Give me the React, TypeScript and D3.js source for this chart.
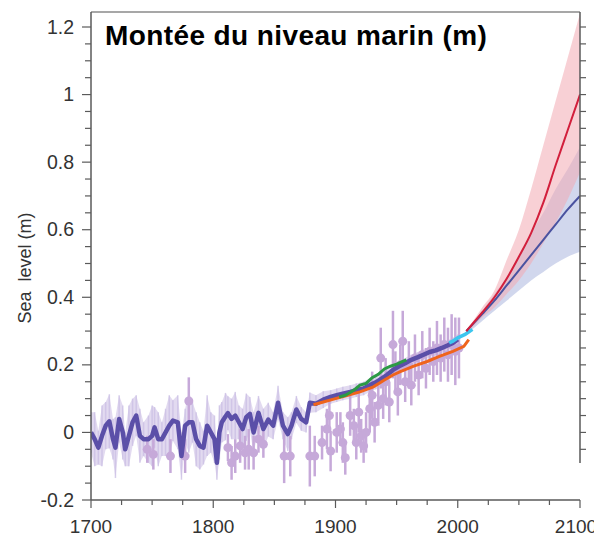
import React from 'react';
import * as d3 from 'd3';

// reconstruction (dark purple) with its spread
const reconYears = [1700,1703,1706,1709,1712,1715,1718,1720,1723,1726,1728,1731,1734,1737,1740,1743,1747,1750,1752,1755,1758,1761,1764,1767,1771,1774,1777,1780,1783,1786,1789,1792,1795,1798,1801,1803,1805,1807,1810,1812,1815,1818,1821,1824,1827,1830,1833,1837,1841,1845,1849,1853,1857,1861,1864,1868,1872,1876,1879,1884,1890,1896,1901,1906,1912,1917,1923,1928,1933,1938,1942,1947,1952,1957,1962,1967,1972,1977,1982,1987,1992,1996,2000];
const reconValues = [0,-0.02,-0.045,-0.01,0.02,0.033,-0.02,-0.045,0.04,0,-0.05,-0.01,0.03,0.05,-0.01,-0.02,-0.02,-0.01,0.015,-0.02,-0.02,0,0.02,0.035,0.03,-0.07,0.02,0.03,0.03,-0.02,-0.04,-0.045,0.02,0,-0.02,-0.09,0,0.03,0.047,0.057,0.04,0.05,0.03,0.01,0.045,0.055,0,0.058,0.01,0.038,0.02,0.088,0.02,-0.005,0.02,0.068,0.04,0.03,0.088,0.085,0.097,0.105,0.11,0.115,0.12,0.125,0.13,0.14,0.148,0.16,0.17,0.185,0.196,0.205,0.215,0.222,0.23,0.238,0.243,0.25,0.258,0.265,0.275];
const reconErr = [0.06,0.08,0.05,0.09,0.07,0.08,0.06,0.09,0.07,0.08,0.05,0.09,0.07,0.06,0.08,0.05,0.07,0.09,0.06,0.08,0.05,0.07,0.09,0.06,0.08,0.07,0.05,0.09,0.06,0.08,0.07,0.05,0.09,0.06,0.07,0.05,0.08,0.06,0.07,0.05,0.06,0.07,0.05,0.06,0.07,0.05,0.06,0.05,0.06,0.05,0.04,0.05,0.04,0.05,0.04,0.04,0.035,0.03,0.03,0.025,0.025,0.02,0.02,0.02,0.02,0.02,0.02,0.02,0.02,0.02,0.02,0.02,0.015,0.015,0.015,0.015,0.015,0.015,0.015,0.015,0.015,0.015,0.015];

// tide gauge estimates (light purple dots with error bars)
const gaugeYears = [1746,1751,1765,1777,1780,1812,1815,1818,1822,1826,1829,1833,1837,1841,1858,1863,1879,1883,1889,1893,1895,1896,1901,1904,1906,1908,1912,1915,1917,1919,1921,1923,1925,1928,1930,1932,1935,1937,1939,1941,1944,1947,1949,1951,1953,1955,1957,1960,1962,1965,1968,1971,1974,1977,1980,1983,1986,1989,1992,1995,1998,2001];
const gaugeValues = [-0.05,-0.065,-0.07,-0.07,0.093,-0.045,-0.09,-0.07,-0.04,-0.06,-0.05,-0.06,-0.02,-0.035,-0.07,-0.07,-0.07,-0.07,-0.03,0.01,0.05,-0.055,0,0.01,-0.03,-0.075,0.05,0.02,-0.03,0.06,-0.01,-0.04,0,0.07,0.11,0.03,0.08,0.22,0.1,0.15,0.09,0.26,0.18,0.12,0.2,0.27,0.15,0.2,0.14,0.22,0.17,0.23,0.19,0.24,0.21,0.25,0.22,0.26,0.23,0.26,0.24,0.25];
const gaugeErr = [0.04,0.045,0.05,0.05,0.07,0.04,0.05,0.05,0.05,0.05,0.06,0.05,0.04,0.04,0.08,0.06,0.09,0.06,0.05,0.06,0.05,0.06,0.06,0.05,0.06,0.05,0.06,0.05,0.05,0.06,0.05,0.05,0.06,0.07,0.07,0.06,0.06,0.09,0.06,0.07,0.06,0.1,0.06,0.07,0.06,0.09,0.06,0.07,0.06,0.07,0.06,0.07,0.06,0.07,0.06,0.08,0.07,0.08,0.08,0.09,0.1,0.09];

// other observational series
const greenYears = [1903,1908,1912,1916,1920,1925,1930,1935,1940,1945,1950,1955,1958];
const greenValues = [0.105,0.11,0.118,0.128,0.14,0.145,0.162,0.172,0.188,0.196,0.202,0.21,0.215];
const orangeYears = [1882,1890,1900,1910,1920,1931,1940,1947,1953,1964,1975,1985,1996,2005,2009];
const orangeValues = [0.082,0.09,0.1,0.11,0.12,0.135,0.155,0.17,0.18,0.196,0.21,0.225,0.24,0.255,0.275];
const cyanYears = [1993,1996,2000,2003,2006,2010,2012];
const cyanValues = [0.265,0.27,0.28,0.285,0.29,0.3,0.305];

// projections
const projYears = [2007,2020,2030,2040,2050,2060,2070,2080,2090,2100];
const redMid = [0.3,0.355,0.4,0.455,0.52,0.59,0.68,0.79,0.895,1.0];
const redHi = [0.3,0.37,0.42,0.51,0.6,0.72,0.85,0.98,1.11,1.24];
const redLo = [0.29,0.34,0.37,0.41,0.45,0.5,0.56,0.62,0.69,0.77];
const blueMid = [0.3,0.35,0.39,0.435,0.48,0.525,0.57,0.615,0.66,0.7];
const blueHi = [0.3,0.36,0.41,0.46,0.52,0.59,0.65,0.72,0.78,0.845];
const blueLo = [0.29,0.33,0.36,0.39,0.42,0.45,0.475,0.5,0.52,0.535];

const xMajor = [1700, 1800, 1900, 2000, 2100];
const yMajor = [-0.2, 0, 0.2, 0.4, 0.6, 0.8, 1, 1.2];

const W = 594, H = 536;
const left = 91, right = 580, top = 12, bottom = 500;

export default function App() {
  const x = d3.scaleLinear().domain([1700, 2100]).range([left, right]);
  const y = d3.scaleLinear().domain([-0.2, 1.2]).range([bottom, 27]);

  const line = (xs: number[], vs: number[], curve: any = d3.curveLinear) =>
    d3.line<number>().x((_, i) => x(xs[i])).y(v => y(v)).curve(curve)(vs) || '';
  const band = (xs: number[], lo: number[], hi: number[], curve: any = d3.curveLinear) =>
    d3.area<number>().x((_, i) => x(xs[i])).y0((_, i) => y(lo[i])).y1((_, i) => y(hi[i])).curve(curve)(xs) || '';

  const reconLo = reconValues.map((v, i) => v - reconErr[i]);
  const reconHi = reconValues.map((v, i) => v + reconErr[i]);

  const xMinor = d3.range(1700, 2101, 25);
  const yMinor = d3.range(-0.2, 1.2401, 0.05);
  const axis = '#5a5a5a';
  const font = 'Liberation Sans, Arial, sans-serif';

  return (
    <div style={{ position: 'absolute', left: 0, top: 0 }}>
      <svg width={W} height={H} style={{ display: 'block', background: '#fff' }}>
        <defs>
          <clipPath id="plot">
            <rect x={left} y={top} width={right - left} height={bottom - top} />
          </clipPath>
        </defs>

        <g clipPath="url(#plot)">
          {/* projection ranges */}
          <path d={band(projYears, blueLo, blueHi, d3.curveMonotoneX)} fill="#b9c2e4" opacity={0.65} />
          <path d={band(projYears, redLo, redHi, d3.curveMonotoneX)} fill="#f3aab3" opacity={0.55} />

          {/* reconstruction spread */}
          <path d={band(reconYears, reconLo, reconHi)} fill="#d5cbea" opacity={0.7} />
          {reconYears.map((yr, i) => (
            <line key={'re' + i} x1={x(yr)} x2={x(yr)} y1={y(reconLo[i])} y2={y(reconHi[i])}
              stroke="#c9bde4" strokeWidth={1.5} opacity={0.7} />
          ))}

          {/* tide gauge points */}
          {gaugeYears.map((yr, i) => (
            <g key={'g' + i}>
              <line x1={x(yr)} x2={x(yr)} y1={y(gaugeValues[i] - gaugeErr[i])} y2={y(gaugeValues[i] + gaugeErr[i])}
                stroke="#c6a9d9" strokeWidth={2.5} />
              <circle cx={x(yr)} cy={y(gaugeValues[i])} r={4.5} fill="#c6a9d9" />
            </g>
          ))}

          <path d={line(reconYears, reconValues)} fill="none" stroke="#5b4fa8" strokeWidth={4.5} strokeLinejoin="round" />
          <path d={line(orangeYears, orangeValues)} fill="none" stroke="#ef641c" strokeWidth={3} />
          <path d={line(greenYears, greenValues)} fill="none" stroke="#2c9a45" strokeWidth={3} />
          <path d={line(reconYears.filter(v => v >= 1960), reconValues.filter((_, i) => reconYears[i] >= 1960))}
            fill="none" stroke="#5b4fa8" strokeWidth={3} />
          <path d={line(cyanYears, cyanValues)} fill="none" stroke="#3cc6ee" strokeWidth={3.5} />

          <path d={line(projYears, blueMid, d3.curveMonotoneX)} fill="none" stroke="#4a52a0" strokeWidth={2} />
          <path d={line(projYears, redMid, d3.curveMonotoneX)} fill="none" stroke="#d21f3c" strokeWidth={2} />
        </g>

        {/* frame */}
        <line x1={left} x2={right} y1={top} y2={top} stroke="#8a8a8a" strokeWidth={1.5} />
        <line x1={left} x2={left} y1={top} y2={bottom} stroke={axis} strokeWidth={1.5} />
        <line x1={left} x2={right} y1={bottom} y2={bottom} stroke={axis} strokeWidth={1.5} />
        <line x1={right} x2={right} y1={top} y2={463} stroke={axis} strokeWidth={1.5} />

        {yMinor.map((v, i) => {
          const major = yMajor.some(m => Math.abs(m - v) < 1e-6);
          return (
            <g key={'yt' + i}>
              <line x1={left - (major ? 9 : 6)} x2={left} y1={y(v)} y2={y(v)} stroke={axis} strokeWidth={1.2} />
              {y(v) < 463 && (
                <line x1={right} x2={right + 6} y1={y(v)} y2={y(v)} stroke={axis} strokeWidth={1.2} />
              )}
            </g>
          );
        })}
        {xMinor.map((v, i) => {
          const major = xMajor.includes(v);
          return <line key={'xt' + i} x1={x(v)} x2={x(v)} y1={bottom} y2={bottom + (major ? 8 : 5)} stroke={axis} strokeWidth={1.2} />;
        })}

        {yMajor.map(v => (
          <text key={'yl' + v} x={74} y={y(v) + 6.5} textAnchor="end" fontFamily={font} fontSize={19.5} fill="#333">
            {d3.format('~g')(v).replace('−', '-')}
          </text>
        ))}
        {xMajor.map(v => (
          <text key={'xl' + v} x={v === 2100 ? x(v) - 4 : x(v)} y={533} textAnchor="middle" fontFamily={font} fontSize={19} fill="#333">
            {v}
          </text>
        ))}

        <text transform="translate(31,268) rotate(-90)" textAnchor="middle" fontFamily={font} fontSize={18} fill="#333"
          style={{ whiteSpace: 'pre' }}>
          {'Sea\u00a0\u00a0level (m)'}
        </text>

        <text x={105} y={45} fontFamily={font} fontWeight="bold" fontSize={28} letterSpacing={0.4} fill="#000">
          Montée du niveau marin (m)
        </text>
      </svg>
    </div>
  );
}
